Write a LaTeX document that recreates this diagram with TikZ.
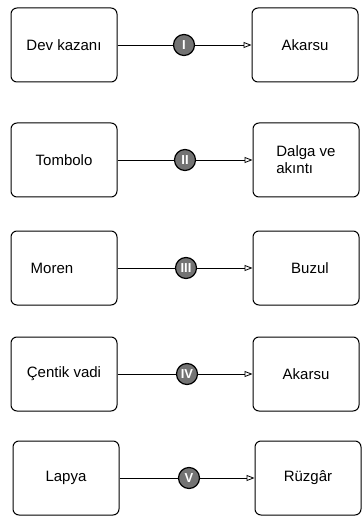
\documentclass[tikz,border=0pt]{standalone}
\usepackage{fontspec}
\setmainfont{Liberation Sans}
\usetikzlibrary{arrows.meta}
\begin{document}
\begin{tikzpicture}[x=1pt, y=-1pt, >={Triangle[open,length=8pt,width=6pt]},
    box/.style={draw, rounded corners=6pt, line width=1pt, minimum width=106pt, minimum height=74pt, align=left, font=\fontsize{15}{17}\selectfont},
    num/.style={circle, draw, line width=1.2pt, fill=black!55, text=white, inner sep=0pt, minimum size=21pt, font=\fontsize{13}{13}\bfseries},
    conn/.style={line width=0.8pt}]
    \useasboundingbox (0,0) rectangle (361,518);

    \node[box] (L1) at (64,45) {Dev kazanı};
    \node[box] (L2) at (64,160) {Tombolo};
    \node[box] (L3) at (64,268) {Moren\hspace*{24pt}};
    \node[box] (L4) at (64,374) {Çentik vadi};
    \node[box] (L5) at (66,478) {Lapya};

    \node[box] (R1) at (305,45) {Akarsu};
    \node[box] (R2) at (306,160) {Dalga ve\\akıntı};
    \node[box] (R3) at (306,268) {\hspace*{8pt}Buzul};
    \node[box] (R4) at (306,374) {Akarsu};
    \node[box] (R5) at (308,478) {Rüzgâr};

    \node[num] (N1) at (184,45) {I};
    \node[num] (N2) at (185,160) {II};
    \node[num] (N3) at (186,268) {III};
    \node[num] (N4) at (187,374) {IV};
    \node[num] (N5) at (189,478) {V};

    \foreach \i in {1,...,5}
        \draw[conn] (L\i) -- (N\i) (N\i) edge[->] (R\i);
\end{tikzpicture}
\end{document}
